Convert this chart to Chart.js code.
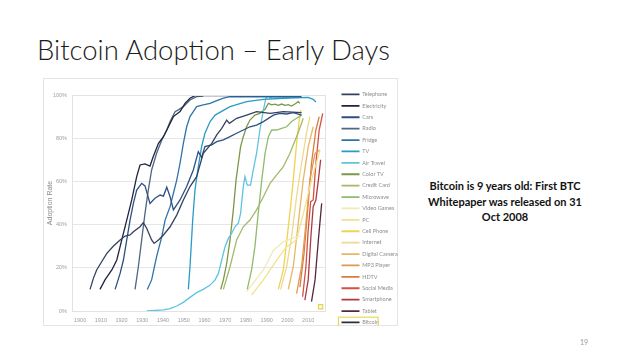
<!DOCTYPE html>
<html>
<head>
<meta charset="utf-8">
<script src="https://cdn.jsdelivr.net/npm/chart.js@4.4.1/dist/chart.umd.min.js"></script>
<style>
  body { margin: 0; width: 638px; height: 359px; background: #fff; position: relative; overflow: hidden; font-family: Lato, "Open Sans", sans-serif; }
  #title { position: absolute; left: 37px; top: 36px; font-size: 26px; font-weight: 300; color: #1b1b1b; white-space: nowrap; line-height: 1; }
  #frame { position: absolute; left: 43px; top: 78px; width: 355px; height: 248px; border: 1px solid #e4e4e4; box-sizing: border-box; }
  #wrap { position: absolute; left: 43px; top: 78px; width: 355px; height: 248px; }
  .note { position: absolute; left: 405px; width: 200px; text-align: center; font-weight: bold; font-size: 10.5px; color: #111; white-space: nowrap; line-height: 1; }
  #page { position: absolute; left: 580px; top: 338px; font-size: 7px; color: #999; }
</style>
</head>
<body>
<div id="title">Bitcoin Adoption – Early Days</div>
<div id="frame"></div>
<div id="wrap"><canvas id="chart" width="355" height="248"></canvas></div>
<div class="note" style="top:180px">Bitcoin is 9 years old: First BTC</div>
<div class="note" id="note2" style="top:196px"><span>Whitepaper was released on 31</span></div>
<div class="note" style="top:211px">Oct 2008</div>
<div id="page">19</div>
<script>
// tick labels
const tickYears = [1900, 1910, 1920, 1930, 1940, 1950, 1960, 1970, 1980, 1990, 2000, 2010];
const tickRates = [0, 20, 40, 60, 80, 100];

const names = ['Telephone', 'Electricity', 'Cars', 'Radio', 'Fridge', 'TV', 'Air Travel', 'Color TV',
  'Credit Card', 'Microwave', 'Video Games', 'PC', 'Cell Phone', 'Internet', 'Digital Camera',
  'MP3 Player', 'HDTV', 'Social Media', 'Smartphone', 'Tablet', 'Bitcoin'];

// [year, adoption %]
const telephone = [[1904.8,10],[1906.4,15.1],[1908,19],[1910.4,22.8],[1912.9,26.7],[1916.1,30.1],[1919.3,32.9],
  [1921.7,34.7],[1924.1,35.2],[1925.7,36.7],[1928.9,39],[1930.5,40.9],[1932.1,38.3],[1934.5,32.9],[1935.7,31.3],
  [1937.8,32.9],[1940.2,35.2],[1943.4,39],[1946.6,44.4],[1949.8,51.4],[1953,57.6],[1956.2,62.2],[1959.4,73],
  [1963.5,77.6],[1965.9,81.5],[1968.3,84.6],[1970.7,88.4],[1972,86.9],[1975.5,89.2],[1980.3,90.7],[1985.1,92.3],
  [1991.6,91.5],[1998,92.3],[2006.8,91.8]];
const electricity = [[1909.6,10],[1912,14.4],[1915.3,19],[1917.7,23.6],[1920.1,32.9],[1922.5,42.1],[1924.9,51.4],
  [1927.3,62.2],[1928.9,67.6],[1931.3,68.1],[1933.7,67.1],[1935.3,71.5],[1937.8,77.6],[1940.2,80.7],[1942.6,85.3],
  [1945,90],[1948.2,92.3],[1950.6,96.1],[1953,98.5],[1955.4,99.7],[2006.8,99.7]];
const cars = [[1916.9,10],[1919.3,17.4],[1920.9,23.6],[1922.5,32.9],[1924.1,42.1],[1925.7,49.8],[1927.3,56],
  [1929.7,59.1],[1931.3,57.9],[1933.7,49.8],[1936.1,52.2],[1938.6,53.7],[1940.2,53.2],[1941.8,57.3],[1943.4,52.9],
  [1945,46.8],[1948.2,51.4],[1951.4,57.6],[1954.6,65.3],[1957,73.8],[1958.6,71.1],[1960.2,76.1],[1963.5,76.9],
  [1965.9,78.4],[1969.1,79.2],[1972.3,80.7],[1975.5,82.3],[1978.7,83.8],[1981.9,85.3],[1985.1,86.1],[1988.4,87.7],
  [1993.2,90.7],[1996.4,91.5],[1999.6,91.2],[2002.8,91.8],[2006.8,90.7]];
const radio = [[1926.5,10],[1928.1,20.5],[1929.7,32.9],[1931.3,45.2],[1932.9,56],[1934.5,65.3],[1936.9,73],
  [1939.4,79.2],[1941.8,83.8],[1943.4,87.7],[1945.8,92.3],[1947.4,93.1],[1949.8,94.6],[1953,97.7],[1956.2,99.2],
  [1959.4,99.5]];
const fridge = [[1932.4,10],[1934.5,14.4],[1936.9,25.2],[1939.4,34.4],[1941,42.1],[1943.4,48.3],[1945,54.5],
  [1946.6,60.6],[1948.2,68.4],[1949.8,77.6],[1951.4,85.3],[1953,90],[1954.6,92.3],[1956.2,94.6],[1959.4,95.4],
  [1962.7,96.1],[1965.9,97.4],[1969.1,98.6],[1972.3,99.2],[2006.8,99.2]];
const tv = [[1952.2,10],[1953,20.5],[1954.3,42.1],[1955.4,56],[1957,66.8],[1958.6,76.1],[1960.2,82.3],
  [1962.7,87.7],[1965.1,90.7],[1972.3,94.6],[1980.3,96.9],[1988.4,98],[1998,98.5],[2010,98.9],[2012.4,98],
  [2013.7,96.8]];
const airTravel = [[1932.1,0],[1940.2,0.5],[1943.4,1.1],[1946.6,2.3],[1949.8,4],[1953,6.3],[1956.2,8.5],
  [1959.4,10],[1962.7,12],[1965.1,14.4],[1966.7,17.4],[1968.3,23.6],[1969.9,29.8],[1971.5,33.6],[1973.1,36],
  [1974.7,39],[1976.3,40.6],[1977.4,45.2],[1978.7,57.6],[1979.5,62.2],[1980.6,58.3],[1982.2,58.3],[1983.5,65.3],
  [1985.1,73],[1986.7,83.8],[1988.4,93.1],[1989.6,98.5],[1990.8,100],[1991.6,98.5],[1992.9,99.2],[2006.8,98.9]];
const colorTv = [[1967.8,10],[1969.1,14.4],[1970.7,22.1],[1972.3,32.9],[1973.9,46.8],[1975.2,60.6],[1976.3,68.4],
  [1977.4,76.1],[1978.7,80.7],[1980.3,85.3],[1981.9,88.4],[1984.3,90.7],[1986.7,91.5],[1989.2,93.4],[1990.8,96.1],
  [1992.4,95.4],[1994,95.8],[1995.6,95.2],[1997.2,95.8],[1998.8,95.2],[2000.4,95.5],[2002,94.9],[2003.6,95.8],
  [2005.2,96.9],[2006,96.1]];
const creditCard = [[1969.1,10],[1972.3,20.5],[1975.5,32.9],[1978.7,39],[1981.9,42.1],[1985.1,46.8],[1988.4,52.9],
  [1991.6,59.1],[1994.8,63],[1998,66.8],[2001.2,73],[2004.4,80.7],[2006.8,86.9],[2007.6,89.2]];
const microwave = [[1980.6,10],[1982.7,19],[1984.3,29.8],[1985.9,45.2],[1987.6,60.6],[1989.2,73],[1990.8,80.7],
  [1992.4,83.8],[1994.8,83.8],[1997.2,84.6],[1999.6,85.3],[2002,87.7],[2004.4,89.2],[2006.8,90.7]];
const videoGames = [[1980.3,9],[1988.4,19],[1993.2,28],[1998,32],[2004.4,34.4],[2006.3,34.7]];
const pc = [[1982.7,7.4],[1988.4,14.4],[1994.8,23.6],[1999.6,29.8],[2004.4,33],[2007.6,45],[2011.6,60.6],[2015.7,74.5]];
const cellPhone = [[1995.6,10],[1998,19],[1999.9,34.4],[2001.5,48.3],[2003.1,63.7],[2004.4,77.6],[2005.7,88.4],[2006.5,93]];
const internet = [[1996.7,10],[1999.6,20.5],[2002,34.4],[2004.4,53],[2006.8,68.4],[2009.2,82.3],[2010.8,90]];
const digitalCamera = [[2000.4,10],[2002.8,20.5],[2005.2,40.6],[2007.6,60.6],[2010,76],[2012.4,85.3]];
const mp3Player = [[2004.4,8],[2006.8,20.5],[2008.9,40.6],[2010.8,60.6],[2013.3,73],[2015.7,74.5]];
const hdtv = [[2006,11],[2008,26.7],[2009.6,45],[2011.6,68.4],[2013.7,83.8],[2015.3,90]];
const socialMedia = [[2007.3,6.6],[2008.9,20.5],[2010,37.5],[2011.2,50.6],[2012.4,51.4],[2013.7,68.4],[2015.3,83.8],[2017,91.5]];
const smartphone = [[2008.4,5],[2010,14.4],[2011.3,34.4],[2012.4,48.3],[2013.7,51.4],[2014.9,60.6],[2016,70]];
const tablet = [[2011.6,4.3],[2013.3,14.4],[2014.9,32.9],[2016.5,49.8]];
const bitcoin = [[2016,2]];

const series = [telephone, electricity, cars, radio, fridge, tv, airTravel, colorTv, creditCard, microwave,
  videoGames, pc, cellPhone, internet, digitalCamera, mp3Player, hdtv, socialMedia, smartphone, tablet, bitcoin];

const colors = ['#34415f', '#1f2440', '#2f4f80', '#4d6681', '#2f72a8', '#2a9bc4', '#5ec4e0', '#7b9846',
  '#a3b96c', '#90bb6c', '#efeab8', '#f2e28e', '#f0d255', '#efd890', '#e6b864', '#df9a52', '#de7a3c',
  '#d4503f', '#ad3a42', '#55283a', '#2c2c3a'];

const datasets = series.map((s, i) => ({
  label: names[i],
  data: s.map(p => ({ x: p[0], y: p[1] })),
  borderColor: colors[i],
  backgroundColor: colors[i],
  borderWidth: 1.3,
  pointRadius: 0,
  tension: 0
}));
// Bitcoin is only a small highlighted square
const btc = datasets[datasets.length - 1];
btc.pointRadius = 3;
btc.pointStyle = 'rect';
btc.pointBorderColor = '#e3d455';
btc.pointBackgroundColor = '#fffbe0';
btc.pointBorderWidth = 1.2;

// fix legend box: one column, fixed width, placed right of the plot
const legendPlace = {
  id: 'legendPlace',
  beforeInit(chart) {
    const fit = chart.legend.fit;
    chart.legend.fit = function () {
      this.maxHeight = 400;
      fit.call(this);
      this.width = 73;
      this.height = 248;
    };
  },
  afterLayout(chart) {
    const lg = chart.legend;
    lg.left = 292.6; lg.right = 360; lg.top = 7.8; lg.bottom = 300;
  },
  afterDraw(chart) {
    const ctx = chart.ctx;
    const a = chart.chartArea;
    ctx.save();
    ctx.strokeStyle = '#e2e2e2';
    ctx.lineWidth = 1;
    ctx.strokeRect(Math.round(a.left) + 0.5, Math.round(a.top) + 0.5, Math.round(a.right - a.left), Math.round(a.bottom - a.top));
    const hb = chart.legend.legendHitBoxes[names.length - 1];
    if (hb) {
      ctx.strokeStyle = '#e6da5a';
      ctx.lineWidth = 1.2;
      ctx.strokeRect(hb.left - 3, hb.top - 2.5, hb.width + 2, hb.height + 5);
    }
    ctx.restore();
  }
};

new Chart(document.getElementById('chart'), {
  type: 'line',
  data: { datasets },
  plugins: [legendPlace],
  options: {
    responsive: false,
    animation: false,
    layout: { padding: { top: 17, right: 0, bottom: 0, left: 0 } },
    plugins: {
      tooltip: { enabled: false },
      legend: {
        position: 'right',
        align: 'start',
        labels: {
          usePointStyle: true,
          pointStyle: 'line',
          pointStyleWidth: 18,
          padding: 5.9,
          color: '#8d8d8d',
          font: { size: 5.5, family: 'Lato, "Open Sans", sans-serif' },
          generateLabels(chart) {
            const items = Chart.defaults.plugins.legend.labels.generateLabels(chart);
            items.forEach((it, i) => { it.strokeStyle = colors[i]; it.lineWidth = 1.8; });
            return items;
          }
        }
      }
    },
    scales: {
      x: {
        type: 'linear',
        min: 1896.1,
        max: 2018.1,
        afterFit(s) { s.height = 15; },
        afterBuildTicks(s) { s.ticks = tickYears.map(v => ({ value: v })); },
        grid: { display: false, drawTicks: false },
        border: { display: false },
        ticks: { color: '#a0a0a0', padding: 6, font: { size: 5.5 }, maxRotation: 0, autoSkip: false, callback: v => String(v) }
      },
      y: {
        min: 0,
        max: 100,
        afterFit(s) { s.width = 29; },
        afterBuildTicks(s) { s.ticks = tickRates.map(v => ({ value: v })); },
        grid: { color: '#e6e6e6', drawTicks: false },
        border: { display: false },
        ticks: { color: '#a0a0a0', padding: 5, font: { size: 5.5 }, callback: v => v + '%' },
        title: { display: true, text: 'Adoption Rate', color: '#8a8a8a', font: { size: 7 }, padding: { top: 3, bottom: 0 } }
      }
    }
  }
});

// size the slide texts to the widths seen in the reference
const titleEl = document.getElementById('title');
titleEl.style.fontSize = (26 * 353 / titleEl.getBoundingClientRect().width) + 'px';
const span2 = document.querySelector('#note2 span');
const noteSize = 10.5 * 154 / span2.getBoundingClientRect().width;
document.querySelectorAll('.note').forEach(n => { n.style.fontSize = noteSize + 'px'; });
</script>
</body>
</html>
